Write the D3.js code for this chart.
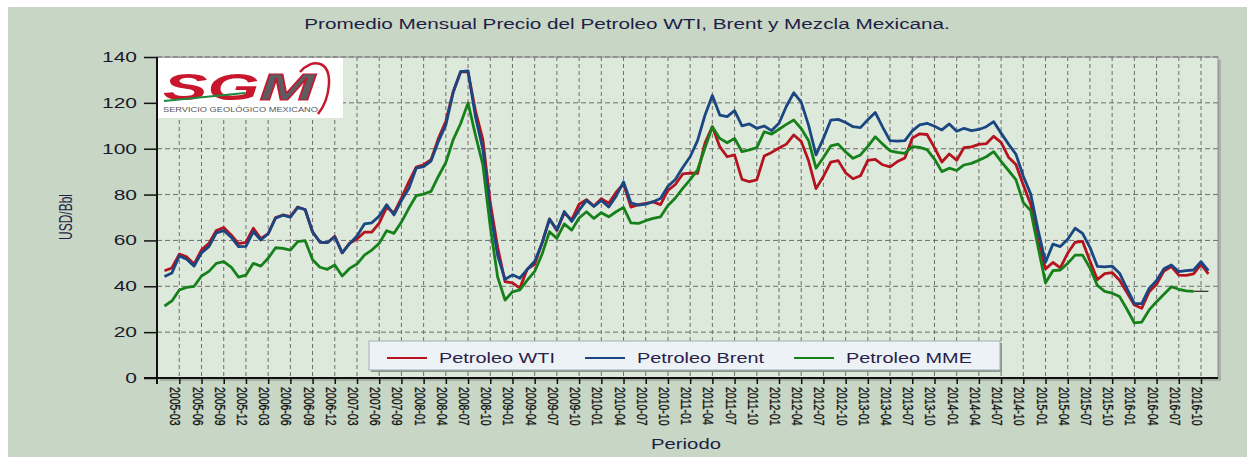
<!DOCTYPE html>
<html>
<head>
<meta charset="utf-8">
<script src="https://cdn.jsdelivr.net/npm/d3@7"></script>
<style>
  body { margin: 0; background: #fff; }
  text { font-family: "Liberation Sans", Arial, sans-serif; }
</style>
</head>
<body>
<svg id="chart"></svg>
<script>
// ---- data (USD/Bbl, monthly average) ----
const years = [2005, 2006, 2007, 2008, 2009, 2010, 2011, 2012, 2013, 2014, 2015, 2016];
const missingMonths = ["2007-11"]; // not in the source table
const lastMonth = "2016-11";

const wti = [
  46.8, 48.0, 54.0, 52.8, 49.7, 55.9, 58.7, 64.3, 65.6, 62.4, 58.6, 59.2, // 2005
  65.3, 60.8, 62.9, 70.0, 71.1, 70.4, 74.6, 73.4, 63.8, 59.2, 59.0, 61.8, // 2006
  54.6, 58.8, 60.6, 63.6, 63.6, 67.5, 74.4, 72.0, 78.5, 85.5, 92.0, // 2007
  93.0, 95.2, 104.5, 112.0, 125.0, 133.6, 133.4, 116.5, 104.0, 76.5, 57.0, 42.0, // 2008
  41.5, 39.2, 47.5, 49.6, 59.0, 69.4, 64.3, 72.0, 69.0, 75.8, 77.8, 75.0, // 2009
  78.2, 76.2, 81.0, 84.6, 74.5, 75.6, 76.2, 76.8, 75.6, 81.8, 84.4, 89.0, // 2010
  89.4, 89.2, 102.5, 109.6, 100.9, 96.5, 97.3, 86.6, 85.6, 86.4, 96.8, 98.4, // 2011
  100.3, 102.0, 106.0, 103.2, 94.7, 82.6, 87.9, 94.2, 94.8, 89.5, 86.9, 88.2, // 2012
  94.9, 95.4, 93.0, 92.1, 94.4, 96.0, 104.6, 106.5, 106.2, 100.5, 94.2, 97.7, // 2013
  95.0, 100.5, 100.8, 101.9, 102.2, 105.4, 102.8, 96.3, 93.1, 84.2, 75.8, 59.5, // 2014
  47.6, 50.4, 48.0, 54.5, 59.2, 59.6, 51.0, 42.9, 45.5, 46.0, 42.6, 37.3, // 2015
  31.8, 30.4, 37.6, 40.9, 46.7, 48.6, 44.9, 44.8, 45.4, 49.5, 45.4 // 2016
];

const brent = [
  44.3, 45.8, 53.2, 51.8, 48.8, 54.6, 57.3, 63.3, 64.3, 61.4, 57.3, 57.4,
  63.8, 60.2, 62.9, 69.7, 71.0, 70.1, 74.4, 73.5, 63.6, 59.3, 59.0, 61.6,
  54.6, 58.6, 61.9, 67.2, 67.7, 70.6, 75.6, 71.1, 77.4, 82.6, 91.5,
  92.2, 94.6, 103.2, 110.4, 124.6, 133.6, 133.9, 114.0, 99.8, 72.8, 53.4, 43.0,
  45.0, 43.5, 47.4, 50.9, 58.8, 69.3, 64.6, 72.6, 68.3, 73.2, 77.5, 74.8,
  77.4, 74.6, 79.3, 85.5, 76.4, 75.4, 75.8, 76.9, 78.3, 83.6, 86.6, 91.8,
  96.5, 103.5, 114.6, 123.2, 114.7, 114.0, 116.6, 110.0, 110.8, 108.9, 109.9, 107.9,
  111.1, 118.5, 124.4, 120.3, 110.2, 97.3, 104.5, 112.5, 112.8, 111.4, 109.6, 109.2,
  112.6, 115.8, 109.4, 103.5, 103.3, 103.5, 107.8, 110.4, 111.1, 109.8, 108.2, 110.8,
  107.6, 108.9, 107.9, 108.4, 109.6, 111.8, 106.8, 102.0, 97.6, 88.0, 80.2, 64.5,
  50.5, 58.4, 57.3, 60.5, 65.3, 63.1, 57.0, 48.7, 48.5, 48.8, 45.7, 39.0,
  32.5, 32.4, 39.1, 42.5, 47.6, 49.3, 46.4, 46.8, 47.1, 50.7, 46.8
];

const mme = [
  31.4, 33.6, 38.4, 39.5, 40.0, 44.5, 46.5, 50.0, 50.8, 48.4, 44.0, 44.9,
  50.0, 48.8, 52.2, 56.8, 56.5, 55.8, 59.5, 59.9, 51.6, 48.3, 47.4, 49.3,
  44.5, 47.8, 49.7, 53.6, 55.8, 58.7, 64.2, 63.1, 68.0, 74.0, 79.5,
  80.2, 81.4, 88.0, 94.0, 104.0, 111.0, 120.0, 106.0, 93.0, 66.0, 44.0, 34.0,
  37.6, 38.4, 42.7, 46.5, 54.0, 63.8, 60.9, 67.2, 64.5, 69.8, 72.5, 69.6,
  72.1, 70.3, 72.5, 74.4, 67.7, 67.4, 68.6, 69.6, 70.3, 75.2, 78.5, 82.7,
  86.5, 90.8, 100.3, 109.6, 104.5, 102.6, 104.5, 98.7, 99.5, 100.5, 107.4, 106.4,
  108.5, 110.6, 112.5, 108.8, 103.5, 91.5, 96.2, 101.2, 102.0, 98.6, 95.8, 97.3,
  101.0, 105.2, 102.0, 99.1, 98.4, 98.0, 100.9, 100.6, 99.6, 95.5, 90.0, 91.5,
  90.5, 92.9, 93.6, 95.0, 96.5, 98.7, 94.5, 90.5, 86.5, 76.5, 73.0, 57.0,
  41.5, 46.8, 47.1, 50.0, 53.6, 53.6, 48.0, 40.4, 37.8, 37.0, 35.5, 30.0,
  24.0, 24.4, 29.7, 33.3, 36.5, 39.8, 38.7, 38.0, 37.8, null, null // no MME value yet
];

const seriesNames = ["Petroleo WTI", "Petroleo Brent", "Petroleo MME"];
const seriesColors = ["#b3141f", "#1a4682", "#16801a"];
const yTicks = [0, 20, 40, 60, 80, 100, 120, 140];

// month categories, one per data point
const months = [];
years.forEach((yr) => {
  for (let m = 1; m <= 12; m++) {
    const key = yr + "-" + String(m).padStart(2, "0");
    if (!missingMonths.includes(key) && key <= lastMonth) months.push(key);
  }
});
// a label every third point, starting on 2005-03
const xTicks = months.filter((d, i) => i >= 2 && (i - 2) % 3 === 0);

class PriceChart {
  constructor(_config, _series) {
    this.config = {
      parentElement: _config.parentElement,
      containerWidth: 1247,
      containerHeight: 457,
      plot: { left: 157, top: 57, right: 1218, bottom: 378 },
      firstX: 164.5,
      lastX: 1208.4,
      stretch: 1.45, // the source picture is wide: text is stretched sideways
    };
    this.series = _series;
    this.initVis();
  }

  initVis() {
    let vis = this;
    const p = vis.config.plot;

    vis.svg = d3
      .select(vis.config.parentElement)
      .attr("width", vis.config.containerWidth)
      .attr("height", vis.config.containerHeight);

    // outer background
    vis.svg
      .append("rect")
      .attr("x", 8)
      .attr("y", 7)
      .attr("width", vis.config.containerWidth - 8)
      .attr("height", vis.config.containerHeight - 7)
      .attr("fill", "#c8d6c6");

    vis.xScale = d3.scalePoint().domain(months).range([vis.config.firstX, vis.config.lastX]);
    vis.yScale = d3.scaleLinear().domain([0, 140]).range([p.bottom, p.top]);

    // plot area with a small shadow
    vis.svg
      .append("rect")
      .attr("x", p.left + 3)
      .attr("y", p.top + 3)
      .attr("width", p.right - p.left)
      .attr("height", p.bottom - p.top)
      .attr("fill", "#a7b3a5");
    vis.svg
      .append("rect")
      .attr("x", p.left)
      .attr("y", p.top)
      .attr("width", p.right - p.left)
      .attr("height", p.bottom - p.top)
      .attr("fill", "#dde9da")
      .attr("stroke", "#8c8c8c")
      .attr("stroke-width", 1);

    vis.chartArea = vis.svg.append("g");

    vis.title = vis.svg
      .append("text")
      .attr("class", "title")
      .attr("text-anchor", "middle")
      .attr("font-size", 14)
      .attr("fill", "#1e1e44")
      .text("Promedio Mensual Precio del Petroleo WTI, Brent y Mezcla Mexicana.");
    vis.stretchText(vis.title, 627, 29, 1.48);

    const xTitle = vis.svg
      .append("text")
      .attr("text-anchor", "middle")
      .attr("font-size", 14)
      .attr("fill", "#1e1e44")
      .text("Periodo");
    vis.stretchText(xTitle, 686, 449, vis.config.stretch);

    vis.svg
      .append("text")
      .attr("text-anchor", "middle")
      .attr("dominant-baseline", "central")
      .attr("font-size", 12)
      .attr("fill", "#1e1e44")
      .attr("transform", "translate(66,217) scale(1.5,1) rotate(-90)")
      .text("USD/Bbl");

    vis.renderVis();
  }

  stretchText(sel, x, y, sx) {
    sel.attr("x", 0).attr("y", 0).attr("transform", `translate(${x},${y}) scale(${sx},1)`);
  }

  renderVis() {
    let vis = this;
    const p = vis.config.plot;
    const x = vis.xScale;
    const y = vis.yScale;

    // dashed grid
    vis.chartArea
      .selectAll(".grid-y")
      .data(yTicks.filter((d) => d > 0))
      .join("line")
      .attr("class", "grid-y")
      .attr("x1", p.left)
      .attr("x2", p.right)
      .attr("y1", (d) => y(d))
      .attr("y2", (d) => y(d))
      .attr("stroke", "#6e6e6e")
      .attr("stroke-dasharray", "5,3");

    vis.chartArea
      .selectAll(".grid-x")
      .data(xTicks)
      .join("line")
      .attr("class", "grid-x")
      .attr("x1", (d) => x(d))
      .attr("x2", (d) => x(d))
      .attr("y1", p.top)
      .attr("y2", p.bottom)
      .attr("stroke", "#6e6e6e")
      .attr("stroke-dasharray", "4,3");

    // logo box in the top-left corner of the plot
    vis.drawLogo(vis.chartArea.append("g"));

    // series lines
    const line = d3
      .line()
      .defined((d) => d != null)
      .x((d, i) => x(months[i]))
      .y((d) => y(d));

    vis.chartArea
      .selectAll(".series")
      .data(vis.series)
      .join("path")
      .attr("class", "series")
      .attr("fill", "none")
      .attr("stroke", (d, i) => seriesColors[i])
      .attr("stroke-width", 2.8)
      .attr("stroke-linejoin", "round")
      .attr("d", (d) => line(d));

    // empty points at the end of MME drawn as a thin dark line
    const mmeLast = d3.max(mme.map((d, i) => (d != null ? i : -1)));
    vis.chartArea
      .append("line")
      .attr("x1", x(months[mmeLast]))
      .attr("x2", x(months[months.length - 1]))
      .attr("y1", y(mme[mmeLast]))
      .attr("y2", y(mme[mmeLast]))
      .attr("stroke", "#3a3a3a")
      .attr("stroke-width", 1.3);

    // axes
    vis.yAxis = d3.axisLeft(y).tickValues(yTicks).tickSize(13).tickSizeOuter(0).tickPadding(7);
    vis.yAxisGroup = vis.svg
      .append("g")
      .attr("transform", `translate(${p.left},0)`)
      .call(vis.yAxis);
    vis.yAxisGroup.select(".domain").remove();
    vis.yAxisGroup.selectAll(".tick line").attr("stroke", "#111").attr("stroke-width", 1.5);
    vis.yAxisGroup
      .selectAll(".tick text")
      .attr("font-size", 14)
      .attr("font-family", null)
      .attr("fill", "#1a1a2a")
      .each(function () {
        const t = d3.select(this);
        t.attr("transform", `translate(${+t.attr("x")},0) scale(${vis.config.stretch + 0.05},1)`).attr("x", 0);
      });

    vis.xAxis = d3.axisBottom(x).tickValues(xTicks).tickSize(6).tickSizeOuter(0);
    vis.xAxisGroup = vis.svg
      .append("g")
      .attr("transform", `translate(0,${p.bottom})`)
      .call(vis.xAxis);
    vis.xAxisGroup.select(".domain").remove();
    vis.xAxisGroup.selectAll(".tick line").attr("stroke", "#111").attr("stroke-width", 1.5);
    vis.xAxisGroup
      .selectAll(".tick text")
      .attr("font-size", 10.5)
      .attr("font-family", null)
      .attr("fill", "#111")
      .attr("stroke", "#111")
      .attr("stroke-width", 0.25)
      .attr("text-anchor", "start")
      .attr("x", 0)
      .attr("y", 0)
      .attr("dy", "0.35em")
      .attr("transform", "translate(-4.5,9) scale(1.35,1) rotate(90)");

    // axis lines, drawn over the plot border
    vis.svg
      .append("line")
      .attr("x1", p.left)
      .attr("x2", p.left)
      .attr("y1", p.top)
      .attr("y2", p.bottom + 6)
      .attr("stroke", "#111")
      .attr("stroke-width", 2);
    vis.svg
      .append("line")
      .attr("x1", p.left - 13)
      .attr("x2", p.right)
      .attr("y1", p.bottom)
      .attr("y2", p.bottom)
      .attr("stroke", "#111")
      .attr("stroke-width", 2);

    vis.drawLegend();
  }

  drawLegend() {
    let vis = this;
    const box = { x: 369, y: 341, w: 631, h: 29 };
    const itemX = [387, 585, 794]; // start of each line sample
    const lg = vis.svg.append("g").attr("class", "legend");

    lg.append("rect")
      .attr("x", box.x + 2)
      .attr("y", box.y + 2)
      .attr("width", box.w)
      .attr("height", box.h)
      .attr("fill", "#8d978c");
    lg.append("rect")
      .attr("x", box.x)
      .attr("y", box.y)
      .attr("width", box.w)
      .attr("height", box.h)
      .attr("fill", "#edf2f6")
      .attr("stroke", "#a3acb4");

    const items = lg
      .selectAll(".item")
      .data(seriesNames)
      .join("g")
      .attr("class", "item")
      .attr("transform", (d, i) => `translate(${itemX[i]},${box.y + 17})`);
    items
      .append("line")
      .attr("x1", 0)
      .attr("x2", 40)
      .attr("stroke", (d, i) => seriesColors[i])
      .attr("stroke-width", 2);
    items
      .append("text")
      .attr("font-size", 14)
      .attr("fill", "#2a1e4a")
      .attr("dominant-baseline", "central")
      .attr("transform", "translate(52,0) scale(1.42,1)")
      .text((d) => d);
  }

  drawLogo(g) {
    const p = this.config.plot;
    g.append("rect")
      .attr("x", p.left + 1)
      .attr("y", p.top + 1)
      .attr("width", 185)
      .attr("height", 60)
      .attr("fill", "#ffffff");

    const sgm = g
      .append("text")
      .attr("x", 163)
      .attr("y", 100)
      .attr("font-size", 36)
      .attr("font-weight", 900)
      .attr("font-style", "italic")
      .attr("textLength", 152)
      .attr("lengthAdjust", "spacingAndGlyphs");
    sgm.append("tspan").attr("fill", "#c8172c").text("SG");
    sgm.append("tspan").attr("fill", "#5c5c62").attr("stroke", "#c8172c").attr("stroke-width", 1).text("M");

    g.append("path")
      .attr("d", "M300,72 C312,58 330,60 329,84 C328,98 323,108 318,114")
      .attr("fill", "none")
      .attr("stroke", "#c8172c")
      .attr("stroke-width", 2.5);

    g.append("line")
      .attr("x1", 164)
      .attr("y1", 101)
      .attr("x2", 245)
      .attr("y2", 93)
      .attr("stroke", "#1f8a3c")
      .attr("stroke-width", 2.2);

    g.append("text")
      .attr("x", 163)
      .attr("y", 112)
      .attr("font-size", 7)
      .attr("font-family", "'Liberation Serif', serif")
      .attr("fill", "#555")
      .attr("textLength", 155)
      .attr("lengthAdjust", "spacingAndGlyphs")
      .text("SERVICIO GEOLÓGICO MEXICANO");
  }
}

new PriceChart({ parentElement: "#chart" }, [wti, brent, mme]);
</script>
</body>
</html>
